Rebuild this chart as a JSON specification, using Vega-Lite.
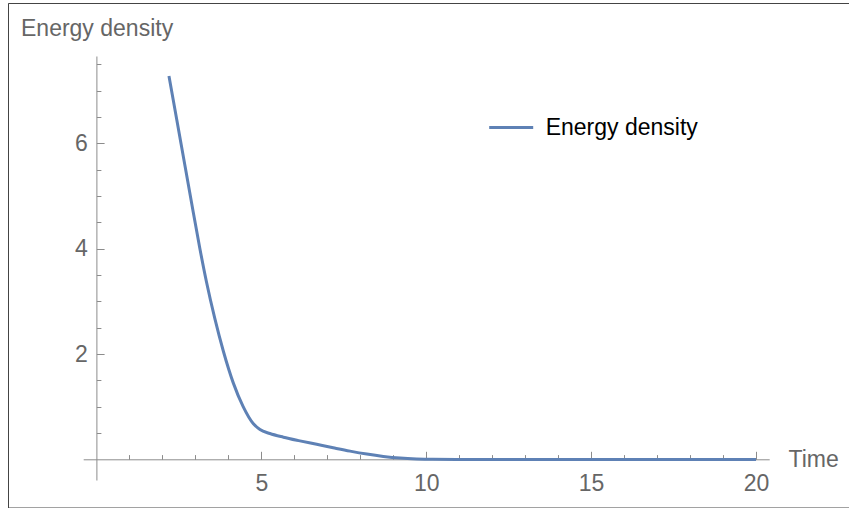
{
  "$schema": "https://vega.github.io/schema/vega-lite/v6.json",
  "autosize": {"type": "none"},
  "padding": {"left": 8, "top": 3, "right": 0, "bottom": 0},
  "width": 841,
  "height": 504.5,
  "background": "white",
  "config": {
    "font": "Liberation Sans",
    "view": {"stroke": "#444444", "strokeWidth": 1, "strokeDash": [841, 504.5, 1500]},
    "axis": {"grid": false}
  },
  "data": {
    "values": [
      {"time": 2.2, "energy": 7.28, "series": "Energy density"},
      {"time": 2.44, "energy": 6.44, "series": "Energy density"},
      {"time": 2.69, "energy": 5.56, "series": "Energy density"},
      {"time": 2.94, "energy": 4.685, "series": "Energy density"},
      {"time": 3.14, "energy": 3.995, "series": "Energy density"},
      {"time": 3.34, "energy": 3.365, "series": "Energy density"},
      {"time": 3.59, "energy": 2.678, "series": "Energy density"},
      {"time": 3.85, "energy": 2.054, "series": "Energy density"},
      {"time": 4.15, "energy": 1.454, "series": "Energy density"},
      {"time": 4.45, "energy": 1.004, "series": "Energy density"},
      {"time": 4.76, "energy": 0.678, "series": "Energy density"},
      {"time": 4.96, "energy": 0.568, "series": "Energy density"},
      {"time": 5.26, "energy": 0.493, "series": "Energy density"},
      {"time": 5.67, "energy": 0.423, "series": "Energy density"},
      {"time": 6.17, "energy": 0.353, "series": "Energy density"},
      {"time": 6.68, "energy": 0.287, "series": "Energy density"},
      {"time": 7.18, "energy": 0.222, "series": "Energy density"},
      {"time": 7.69, "energy": 0.158, "series": "Energy density"},
      {"time": 8.2, "energy": 0.102, "series": "Energy density"},
      {"time": 8.7, "energy": 0.058, "series": "Energy density"},
      {"time": 9.21, "energy": 0.026, "series": "Energy density"},
      {"time": 9.71, "energy": 0.009, "series": "Energy density"},
      {"time": 10.2, "energy": 0.002, "series": "Energy density"},
      {"time": 11, "energy": 0, "series": "Energy density"},
      {"time": 12, "energy": 0, "series": "Energy density"},
      {"time": 14, "energy": 0, "series": "Energy density"},
      {"time": 16, "energy": 0, "series": "Energy density"},
      {"time": 18, "energy": 0, "series": "Energy density"},
      {"time": 20, "energy": 0, "series": "Energy density"}
    ]
  },
  "mark": {"type": "line", "interpolate": "monotone", "strokeWidth": 3},
  "encoding": {
    "x": {
      "field": "time",
      "type": "quantitative",
      "scale": {"domain": [-0.4, 20.4], "range": [75.2, 761.2], "nice": false, "zero": false},
      "axis": {
        "orient": "bottom",
        "offset": -48.2,
        "values": [1, 2, 3, 4, 5, 6, 7, 8, 9, 10, 11, 12, 13, 14, 15, 16, 17, 18, 19, 20],
        "labelExpr": "datum.value % 5 === 0 ? '' + datum.value : ''",
        "tickSize": {"condition": {"test": "datum.value % 5 === 0", "value": -8}, "value": -4.7},
        "labelPadding": 21.5,
        "labelFontSize": 23,
        "labelColor": "#666666",
        "labelFlush": false,
        "labelOverlap": false,
        "labelBound": false,
        "domainColor": "#8c8c8c",
        "tickColor": "#8c8c8c",
        "title": "Time",
        "titleFontSize": 23,
        "titleFontWeight": "normal",
        "titleColor": "#666666",
        "titleAngle": 0,
        "titleAlign": "left",
        "titleBaseline": "alphabetic",
        "titleX": 780,
        "titleY": 7.4
      }
    },
    "y": {
      "field": "energy",
      "type": "quantitative",
      "scale": {"domain": [-0.39, 7.66], "range": [477, 53], "nice": false, "zero": false},
      "axis": {
        "orient": "left",
        "offset": -88.4,
        "values": [0.5, 1, 1.5, 2, 2.5, 3, 3.5, 4, 4.5, 5, 5.5, 6, 6.5, 7, 7.5],
        "labelExpr": "datum.value % 2 === 0 ? '' + datum.value : ''",
        "tickSize": {"condition": {"test": "datum.value % 2 === 0", "value": -7.7}, "value": -4.5},
        "labelPadding": 16.8,
        "labelFontSize": 23,
        "labelColor": "#666666",
        "labelFlush": false,
        "labelOverlap": false,
        "labelBound": false,
        "domainColor": "#8c8c8c",
        "tickColor": "#8c8c8c",
        "title": "Energy density",
        "titleFontSize": 23,
        "titleFontWeight": "normal",
        "titleColor": "#666666",
        "titleAngle": 0,
        "titleAlign": "left",
        "titleBaseline": "alphabetic",
        "titleX": -75.9,
        "titleY": 32
      }
    },
    "color": {
      "field": "series",
      "type": "nominal",
      "scale": {"range": ["#5E81B5"]},
      "legend": {
        "orient": "none",
        "legendX": 479.7,
        "legendY": 101,
        "title": null,
        "padding": 0,
        "symbolType": "stroke",
        "symbolSize": 1936,
        "symbolStrokeWidth": 3,
        "labelFontSize": 23,
        "labelColor": "#000000",
        "labelOffset": 11
      }
    }
  }
}
